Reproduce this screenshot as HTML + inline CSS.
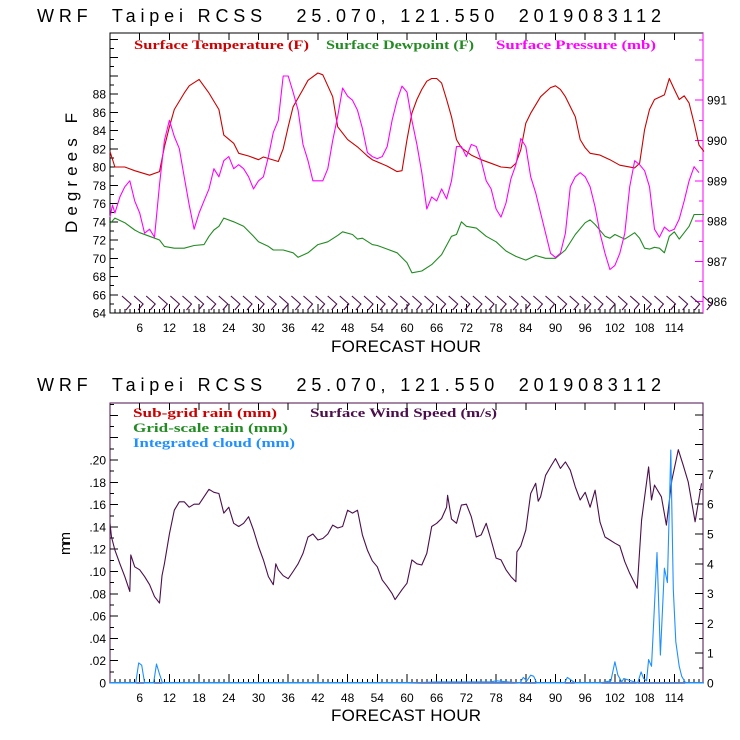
<!DOCTYPE html>
<html><head><meta charset="utf-8"><style>
html,body{margin:0;padding:0;background:#fff}
svg{display:block}
.t{font-family:"Liberation Sans",sans-serif;}
.s{font-family:"Liberation Serif",serif;font-weight:bold;font-size:13px}
.ttl{white-space:pre}
</style></head><body>
<svg id="svg" width="740" height="740" xmlns="http://www.w3.org/2000/svg">
<rect width="740" height="740" fill="#fff"/>
<g id="top"></g>
<g id="bot"></g>
</svg>
<script>
// ---- data: top panel ----
const tempHours=[0,1,3,5,8,10,11,12,13,15,16,18,20,22,23,25,26,28,30,31,34,35,36,37,39,40,42,43,45,46,48,50,52,53,56,58,59,60,61,62,63,64,65,66,67,68,69,70,71,73,75,77,79,81,82,83,84,85,87,89,90,91,92,94,95,96,97,99,101,103,106,107,108,109,110,112,113,114,115,116,117,118,119,120];
const tempF=[81.7,80,80,79.6,79.1,79.5,82.2,84.4,86.3,88.1,88.9,89.6,88.1,86.3,83.5,82.6,81.5,81.2,80.8,81.1,80.6,82,84.4,86.6,88.5,89.5,90.3,90.1,87.7,84.4,83,82.2,81.2,80.8,80.1,79.5,79.6,83,85.9,87.4,88.5,89.4,89.7,89.7,89.2,87.4,85.5,83,82.1,81.3,80.8,80.4,80,79.9,80.4,81.9,84.8,85.9,87.7,88.7,88.9,88.5,87.7,85.5,83,82.1,81.5,81.3,80.8,80.2,79.9,80.4,84.1,86.3,87.4,87.9,89.7,88.5,87.4,87.8,87,84.8,82.4,81.7];
const dewHours=[0,1,3,5,6,8,10,11,13,15,17,19,20,21,22,23,25,27,29,30,32,33,35,37,38,40,42,44,46,47,49,50,51,53,54,56,58,60,61,63,65,67,69,70,71,72,74,76,78,80,82,84,86,88,90,92,94,96,97,98,100,101,102,104,106,107,108,109,110,111,112,113,114,115,116,117,118,120];
const dewF=[73.8,74.4,73.9,73.1,72.8,72.4,72,71.3,71.1,71.1,71.4,71.5,72.4,73.1,73.5,74.4,74,73.5,72.4,71.8,71.3,70.9,70.9,70.6,70.1,70.6,71.5,71.8,72.5,72.9,72.6,72.1,72.2,71.5,71.4,71,70.6,69.5,68.4,68.6,69.3,70.4,72.4,72.6,74,73.5,73.3,72.4,71.8,70.8,70.2,69.8,70.3,70,70,70.9,72.6,73.9,74.2,73.7,72.4,72.2,72.6,72.1,72.8,72.2,71.1,71,71.2,71.1,70.6,72.4,72.9,72.1,72.8,73.5,74.8,74.8];
const presHours=[0,0.5,1,2,3,4,5,6,7,8,9,10,11,12,13,14,15,16,17,18,19,20,21,22,23,24,25,26,27,28,29,30,31,32,33,34,35,36,37,38,39,40,41,42,43,44,45,46,47,48,49,50,51,52,53,54,55,56,57,58,59,60,61,62,63,64,65,66,67,68,69,70,71,72,73,74,75,76,77,78,79,80,81,82,83,84,85,86,87,88,89,90,91,92,93,94,95,96,97,98,99,100,101,102,103,104,105,106,107,108,109,110,111,112,113,114,115,116,117,118,119];
const presMb=[988.1,988.4,988.2,988.6,988.85,989.0,988.5,988.2,987.7,987.8,987.6,988.9,990.0,990.5,990.1,989.8,989.1,988.4,987.8,988.2,988.5,988.8,989.3,989.1,989.5,989.6,989.3,989.4,989.3,989.1,988.8,989,989.1,989.6,990.2,990.5,991.6,991.6,991.2,990.75,989.9,989.5,989,989,989,989.3,990,990.6,991.3,991.1,991,990.75,990.3,989.7,989.6,989.55,989.6,989.85,990.5,991,991.35,991.2,990.5,989.9,989.2,988.3,988.6,988.5,988.8,988.55,989,989.85,989.85,989.6,989.9,989.85,989.5,989,988.8,988.3,988.1,988.45,989.05,989.4,990.05,989.85,989.1,988.7,988.2,987.7,987.2,987.1,987.2,987.7,988.85,989.1,989.2,989.1,988.85,988.35,987.7,987.2,986.8,986.9,987.2,987.7,988.85,989.5,989.4,989.25,988.85,987.8,987.6,987.85,987.75,987.8,988.05,988.5,989,989.35,989.2];
const tempTicks=[64,66,68,70,72,74,76,78,80,82,84,86,88];
const presTicks=[986,987,988,989,990,991];
const hourTicks=[6,12,18,24,30,36,42,48,54,60,66,72,78,84,90,96,102,108,114];
// ---- data: bottom panel ----
const windHours=[0,0.3,1,2,3,4,4.2,5,6,7,8,9,10,10.5,11,12,13,14,15,16,17,18,19,20,21,22,23,24,25,26,27,28,29,30,31,32,33,33.5,34,35,36,37,38,39,40,41,42,43,44,45,46,47,48,49,50,51,52,53,54,55,56,57,57.6,59,60,61,62,63,64,65,66,67,68,68.2,69,70,71,72,73,74,75,76,77,78,79,80,81,82,82.2,83,84,85,86,86.5,87,88,89,90,91,92,93,94,95,96,97,98,99,100,101,102,103,104,105,106.5,107.4,108.8,109.4,110,111.4,112.4,113.5,114.8,115.8,116.8,118.2,119.5];
const windMs=[5.36,4.9,4.46,4.0,3.57,3.07,4.3,3.9,3.8,3.57,3.3,2.9,2.68,3.6,4.0,5.0,5.8,6.08,6.08,5.9,6.0,6.0,6.25,6.5,6.4,6.36,5.7,5.9,5.36,5.25,5.36,5.58,5.13,4.58,4.13,3.57,3.3,4.0,3.8,3.6,3.5,3.74,4.0,4.35,4.9,5.0,4.8,4.85,5.0,5.3,5.2,5.25,5.8,5.7,5.8,4.97,4.46,4.1,3.9,3.46,3.24,3.0,2.8,3.13,3.35,4.13,4.0,3.96,4.35,5.25,5.36,5.52,5.9,6.3,5.5,5.36,5.97,6.0,5.58,4.9,4.97,5.36,4.8,4.19,4.13,3.8,3.57,3.4,4.4,4.6,5.13,6.36,6.7,6.1,6.25,6.97,7.25,7.53,7.2,7.42,7.14,6.58,6.14,6.4,5.9,6.47,5.4,4.9,4.8,4.69,4.6,4.07,3.68,3.18,5.47,7.25,6.14,6.64,6.25,5.3,6.8,7.83,7.31,6.75,5.41,6.7,6.03];
const cloudHours=[0,5.2,5.8,6.4,7,8.8,9.4,10,10.6,60,66,77,78,82.8,83.5,84.2,85,85.6,86.2,91.8,92.4,94,99,101.2,102,102.6,103.4,103.8,106.6,107.3,107.8,108.4,108.8,109.4,109.7,110.5,111.2,112,112.6,113.3,113.8,114.3,115,115.5,116.3,120];
const cloudMm=[0,0,0.018,0.016,0,0,0.017,0.008,0,0,0.001,0.001,0.002,0,0.005,0.002,0.007,0.006,0,0,0.005,0,0,0.002,0.019,0.007,0.001,0.004,0,0.010,0.004,0.002,0.021,0.015,0.042,0.117,0.025,0.103,0.09,0.209,0.084,0.037,0.015,0.006,0,0];
const rainTicks=[0,0.02,0.04,0.06,0.08,0.10,0.12,0.14,0.16,0.18,0.20];
const rainLabels=["0",".02",".04",".06",".08",".10",".12",".14",".16",".18",".20"];
const windTicks=[0,1,2,3,4,5,6,7];

const NS="http://www.w3.org/2000/svg";
const X0=110,X1=703,HMAX=119.8;
const x=h=>X0+h*(X1-X0)/HMAX;
const T_TOP=33,T_BOT=313;
const yT=f=>T_BOT-(f-64)*9.125;
const yP=p=>301.7-(p-986)*40.3;
const B_TOP=403,B_BOT=683;
const yR=v=>B_BOT-v*1115;
const yW=v=>B_BOT-v*29.8;

function el(parent,tag,attrs,txt){const e=document.createElementNS(NS,tag);for(const k in attrs)e.setAttribute(k,attrs[k]);if(txt!==undefined)e.textContent=txt;parent.appendChild(e);return e;}
function line(g,x1,y1,x2,y2,c){return el(g,'line',{x1,y1,x2,y2,stroke:c,'stroke-width':1,'shape-rendering':'crispEdges'});}
function path(g,hs,vs,ys,c,name){
  let d='';hs.forEach((h,i)=>{d+=(i?'L':'M')+x(h).toFixed(1)+','+ys(vs[i]).toFixed(1);});
  const p=el(g,'path',{d,fill:'none',stroke:c,'stroke-width':1.1,'stroke-linejoin':'round'});
  
  
  return p;
}
function title(g,y){
  const t=el(g,'text',{x:37,y,class:'t ttl','font-size':18,'font-weight':'normal',textLength:624,lengthAdjust:'spacing',fill:'#000'},'WRF  Taipei RCSS   25.070, 121.550  2019083112');
  
  
}
function xAxis(g,top,bot,ly,ty){
  for(let h=1;h<HMAX;h++){line(g,x(h),bot,x(h),bot-(h%6?4:9),'#000');}
  hourTicks.forEach(h=>{line(g,x(h),top,x(h),top+7,'#000');
    const t=el(g,'text',{x:x(h),y:ly,'text-anchor':'middle',class:'t','font-size':12,fill:'#000'},String(h));
    
    });
  const t=el(g,'text',{x:331,y:ty,class:'t','font-size':17,textLength:150,lengthAdjust:'spacing',fill:'#000'},'FORECAST HOUR');
  
  
}
function leg(g,tx,xx,yy,c,w,name){
  const t=el(g,'text',{x:xx,y:yy,class:'s',fill:c,textLength:w,lengthAdjust:'spacingAndGlyphs'},tx);
  
  
}

// ===== TOP =====
const gt=document.getElementById('top');
title(gt,22);
el(gt,'rect',{x:X0,y:T_TOP,width:X1-X0,height:T_BOT-T_TOP,fill:'none',stroke:'#000','shape-rendering':'crispEdges'});
line(gt,X1,T_TOP,X1,T_BOT,'#ff00ff');
for(let f=64;f<=94;f++){line(gt,X0,yT(f),X0+(f%2?4:8),yT(f),'#000');}
tempTicks.forEach(f=>{const t=el(gt,'text',{x:106,y:yT(f)+4.5,'text-anchor':'end',class:'t','font-size':12,fill:'#000'},String(f));
  
  });
for(let p=986;p<=992.6;p+=0.5){line(gt,X1,yP(p),X1-(p%1?4:8),yP(p),'#ff00ff');}
presTicks.forEach(p=>{const t=el(gt,'text',{x:707,y:yP(p)+4.5,class:'t','font-size':12,fill:'#000'},String(p));
  
  });
xAxis(gt,T_TOP,T_BOT,332,352);
const yl=el(gt,'text',{x:0,y:0,class:'t','font-size':17,fill:'#000',textLength:120,lengthAdjust:'spacing',transform:'translate(77,233) rotate(-90)'},'Degrees F');


leg(gt,'Surface Temperature (F)',134,49,'#cc0000',175,'legend-temperature');
leg(gt,'Surface Dewpoint (F)',326,49,'#228b22',148,'legend-dewpoint');
leg(gt,'Surface Pressure (mb)',496,49,'#ff00ff',160,'legend-pressure');
const gb=el(gt,'g',{stroke:'#4b0f4b','stroke-width':1.1,fill:'none'});


for(let i=0;i<49;i++){const bx=122+i*12.1;
  el(gb,'path',{d:`M${bx},${296}L${bx+9},${304}L${bx+4},${310}`});}
path(gt,dewHours,dewF,yT,'#228b22','dewpoint-line');
path(gt,tempHours,tempF,yT,'#cc0000','temperature-line');
path(gt,presHours,presMb,yP,'#ff00ff','pressure-line');

// ===== BOTTOM =====
const gd=document.getElementById('bot');
title(gd,391);
el(gd,'rect',{x:X0,y:B_TOP,width:X1-X0,height:B_BOT-B_TOP,fill:'none',stroke:'#4b0f4b','shape-rendering':'crispEdges'});
for(let i=0;i<=25;i++){const v=i*0.01;line(gd,X0,yR(v),X0+(i%2?4:8),yR(v),'#000');}
rainTicks.forEach((v,i)=>{const t=el(gd,'text',{x:106,y:yR(v)+4.5,'text-anchor':'end',class:'t','font-size':12,fill:'#000'},rainLabels[i]);
  
  });
for(let i=0;i<=18;i++){const v=i*0.5;line(gd,X1,yW(v),X1-(i%2?4:8),yW(v),'#000');}
windTicks.forEach(v=>{const t=el(gd,'text',{x:707,y:yW(v)+4.5,class:'t','font-size':12,fill:'#000'},String(v));
  
  });
xAxis(gd,B_TOP,B_BOT,702,721);
const ml=el(gd,'text',{x:0,y:0,class:'t','font-size':15,fill:'#000',textLength:23,lengthAdjust:'spacing',transform:'translate(70,555) rotate(-90)'},'mm');


leg(gd,'Sub-grid rain (mm)',133,417,'#cc0000',144,'legend-subgrid-rain');
leg(gd,'Surface Wind Speed (m/s)',310,417,'#4b0f4b',187,'legend-wind-speed');
leg(gd,'Grid-scale rain (mm)',133,432,'#228b22',155,'legend-gridscale-rain');
leg(gd,'Integrated cloud (mm)',133,447,'#1e90ff',162,'legend-cloud');
line(gd,X0,B_BOT-0.5,X1,B_BOT-0.5,'#1e90ff');
path(gd,windHours,windMs,yW,'#4b0f4b','wind-speed-line');
path(gd,cloudHours,cloudMm,yR,'#1e90ff','cloud-line');
</script>
</body></html>
